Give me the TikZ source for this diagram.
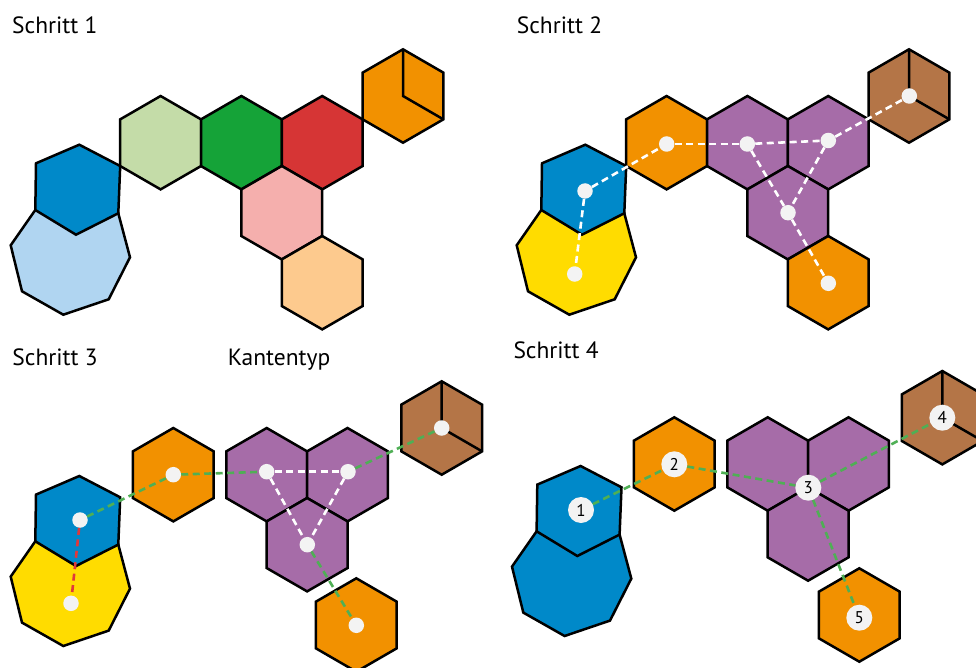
\documentclass[tikz,border=0pt]{standalone}
\usepackage{fontspec}
\setmainfont{PT Sans}
\definecolor{cBlue}{HTML}{0089C9}
\definecolor{cLightBlue}{HTML}{B0D5F1}
\definecolor{cLightGreen}{HTML}{C4DCA8}
\definecolor{cDarkGreen}{HTML}{15A338}
\definecolor{cRed}{HTML}{D63535}
\definecolor{cPink}{HTML}{F5AFAD}
\definecolor{cPeach}{HTML}{FDCA8E}
\definecolor{cOrange}{HTML}{F29100}
\definecolor{cPurple}{HTML}{A66CA8}
\definecolor{cBrown}{HTML}{B47547}
\definecolor{cYellow}{HTML}{FFDC00}
\definecolor{cDot}{HTML}{F3F3F3}
\definecolor{cGreenDash}{HTML}{4FAF55}
\definecolor{cRedDash}{HTML}{E0383B}
\tikzset{
  hexline/.style={draw=black, line width=2.5pt, line join=miter},
  dotnode/.style={circle, fill=cDot, draw=none, minimum size=15.5pt, inner sep=0pt},
  badge/.style={circle, fill=cDot, draw=none, minimum size=26pt, inner sep=0pt, font=\fontsize{17}{17}\selectfont},
  whiteedge/.style={draw=white, line width=2.6pt, dash pattern=on 7pt off 4.5pt},
  greenedge/.style={draw=cGreenDash, line width=2.6pt, dash pattern=on 7pt off 4.5pt},
  rededge/.style={draw=cRedDash, line width=2.6pt, dash pattern=on 7pt off 4.5pt},
  steplabel/.style={anchor=base west, inner sep=0pt, font=\fontsize{23.5}{28}\selectfont}
}
\newcommand\myhex[2]{\filldraw[hexline,fill=#2,shift={(#1)}] (0,-46.7) -- (40.4,-23.35) -- (40.4,23.35) -- (0,46.7) -- (-40.4,23.35) -- (-40.4,-23.35) -- cycle;}
\newcommand\mycube[2]{\myhex{#1}{#2}\draw[hexline,shift={(#1)}] (0,-46.7) -- (0,0) -- (40.4,23.35);}
\newcommand\myblob[3]{%
  \filldraw[hexline,fill=#3,shift={(#1)}] (35.3,210) -- (118.3,213.3) -- (130,257.3) -- (108.7,299.3) -- (63.3,314.7) -- (22,291.3) -- (10.7,245.3) -- cycle;
  \filldraw[hexline,fill=#2,shift={(#1)}] (36,163.3) -- (79.3,144.7) -- (120.2,166) -- (118.3,213.3) -- (76,234.7) -- (35.3,210) -- cycle;}
\begin{document}
\begin{tikzpicture}[x=1pt,y=-1pt]
\useasboundingbox (0,0) rectangle (976,668);
% labels
\node[steplabel] (t1) at (12,33.3) {Schritt 1};
\node[steplabel] (t2) at (516.7,33.3) {Schritt 2};
\node[steplabel] (t3) at (12.3,365) {Schritt 3};
\node[steplabel] (tk) at (227.7,365) {Kantentyp};
\node[steplabel] (t4) at (513.3,358.3) {Schritt 4};

% ---------- Panel 1 ----------
\myblob{0,0}{cBlue}{cLightBlue}
\myhex{160.6,142.7}{cLightGreen}
\myhex{241.4,142.7}{cDarkGreen}
\myhex{322.2,142.7}{cRed}
\myhex{281.8,212.7}{cPink}
\myhex{322.2,282.7}{cPeach}
\mycube{403,96}{cOrange}

% ---------- Panel 2 ----------
\myblob{506,0}{cBlue}{cYellow}
\myhex{666.6,142.7}{cOrange}
\myhex{747.4,142.7}{cPurple}
\myhex{828.2,142.7}{cPurple}
\myhex{787.8,212.7}{cPurple}
\myhex{828.2,282.7}{cOrange}
\mycube{909,96}{cBrown}
\node[dotnode] (b2) at (585,191) {};
\node[dotnode] (y2) at (574.7,274) {};
\node[dotnode] (o2) at (666.7,144) {};
\node[dotnode] (pa2) at (747.3,144) {};
\node[dotnode] (pb2) at (828.3,140.5) {};
\node[dotnode] (pc2) at (788,212.7) {};
\node[dotnode] (ob2) at (828.3,283.3) {};
\node[dotnode] (br2) at (909.3,96) {};
\draw[whiteedge] (b2) -- (y2);
\draw[whiteedge] (b2) -- (o2);
\draw[whiteedge] (o2) -- (pa2);
\draw[whiteedge] (pa2) -- (pb2);
\draw[whiteedge] (pa2) -- (pc2);
\draw[whiteedge] (pb2) -- (pc2);
\draw[whiteedge] (pb2) -- (br2);
\draw[whiteedge] (pc2) -- (ob2);

% ---------- Panel 3 ----------
\myblob{0,331.3}{cBlue}{cYellow}
\myhex{173.3,474.7}{cOrange}
\myhex{266.7,474.7}{cPurple}
\myhex{347.5,474.7}{cPurple}
\myhex{307.1,544.7}{cPurple}
\mycube{441.7,428}{cBrown}
\myhex{356.3,625}{cOrange}
\node[dotnode] (b3) at (80,520) {};
\node[dotnode] (y3) at (71,603.3) {};
\node[dotnode] (o3) at (173.3,474.7) {};
\node[dotnode] (pa3) at (266.7,471.7) {};
\node[dotnode] (pb3) at (348,471.7) {};
\node[dotnode] (pc3) at (307.3,544.7) {};
\node[dotnode] (br3) at (441.7,428) {};
\node[dotnode] (ob3) at (356.3,625.3) {};
\draw[rededge] (b3) -- (y3);
\draw[greenedge] (b3) -- (o3);
\draw[greenedge] (o3) -- (pa3);
\draw[whiteedge] (pa3) -- (pb3);
\draw[whiteedge] (pa3) -- (pc3);
\draw[whiteedge] (pb3) -- (pc3);
\draw[greenedge] (pb3) -- (br3);
\draw[greenedge] (pc3) -- (ob3);

% ---------- Panel 4 ----------
\myblob{501.3,321.3}{cBlue}{cBlue}
\myhex{674.3,464}{cOrange}
\myhex{767.7,464}{cPurple}
\myhex{848.5,464}{cPurple}
\myhex{808.1,534}{cPurple}
\mycube{942.3,417.7}{cBrown}
\myhex{859.3,615}{cOrange}
\node[badge] (n1) at (581,510) {1};
\node[badge] (n2) at (674.3,464.3) {2};
\node[badge] (n3) at (808.3,487.7) {3};
\node[badge] (n4) at (942.3,417.7) {4};
\node[badge] (n5) at (859.3,617.7) {5};
\draw[greenedge] (n1) -- (n2);
\draw[greenedge] (n2) -- (n3);
\draw[greenedge] (n3) -- (n4);
\draw[greenedge] (n3) -- (n5);
\end{tikzpicture}
\end{document}
